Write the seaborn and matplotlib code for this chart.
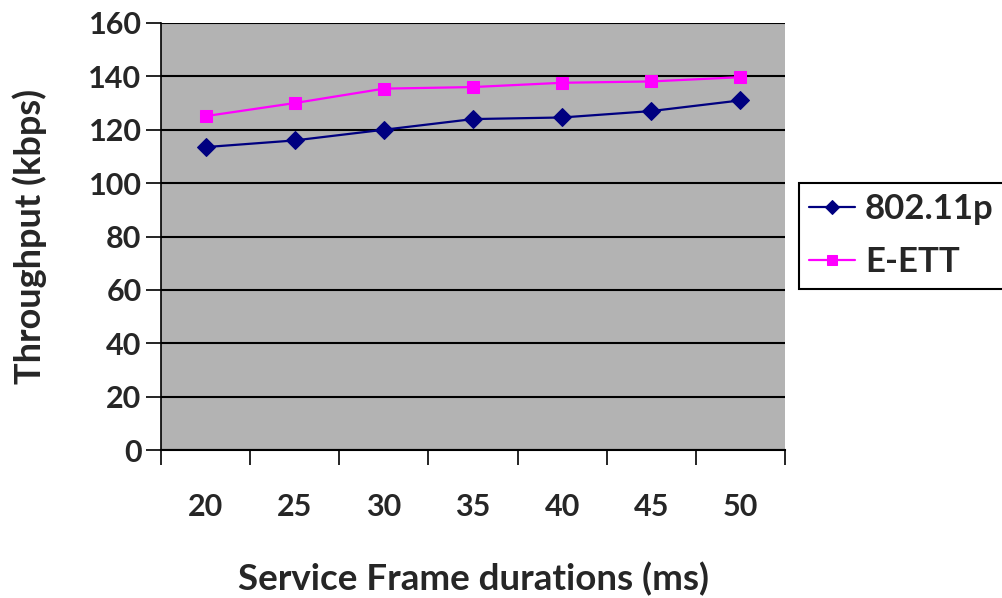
import numpy as np
import pandas as pd
import matplotlib
matplotlib.use("Agg")
import matplotlib.pyplot as plt
import seaborn as sns

durations = ["20", "25", "30", "35", "40", "45", "50"]
thr_80211p = [113.5, 116, 120, 124, 124.6, 127, 131]
thr_eett = [125.1, 130, 135.4, 136, 137.6, 138.1, 139.7]
series_names = ["802.11p", "E-ETT"]
y_ticks = [0, 20, 40, 60, 80, 100, 120, 140, 160]

df = pd.DataFrame({
    "duration": durations * 2,
    "throughput": thr_80211p + thr_eett,
    "series": [series_names[0]] * len(durations) + [series_names[1]] * len(durations),
})

sns.set_theme(style="white")
plt.rcParams["font.family"] = ["Lato", "DejaVu Sans"]
plt.rcParams["font.weight"] = "bold"

fig = plt.figure(figsize=(10.02, 5.98), dpi=100)
ax = fig.add_axes([161 / 1002, 1 - 450 / 598, (785 - 161) / 1002, (450 - 23) / 598])
ax.set_facecolor("#b3b3b3")

sns.lineplot(
    data=df, x="duration", y="throughput", hue="series", style="series",
    palette={"802.11p": "#000080", "E-ETT": "#ff00ff"},
    markers={"802.11p": "D", "E-ETT": "s"},
    dashes=False, markersize=9, linewidth=1.6, ax=ax, legend=True,
)
for line in ax.lines:
    line.set_markeredgecolor(line.get_color())

ax.set_xlim(-0.5, 6.5)
ax.set_ylim(0, 160)
ax.set_yticks(y_ticks)
ax.set_xticks(range(len(durations)))
ax.set_xticklabels(durations)
ax.set_xticks(np.arange(-0.5, 7, 1), minor=True)
ax.tick_params(axis="x", which="major", length=0, pad=31, labelsize=22)
ax.tick_params(axis="x", which="minor", length=11, width=1.2, direction="out", color="black", bottom=True)
ax.tick_params(axis="y", which="major", length=11, width=1.2, direction="out", color="black", left=True, pad=3, labelsize=22)
for lbl in ax.get_xticklabels() + ax.get_yticklabels():
    lbl.set_fontweight("bold")

ax.yaxis.grid(True, color="black", linewidth=1.5)
ax.set_axisbelow(True)
for side in ["top", "right"]:
    ax.spines[side].set_visible(False)
ax.spines["left"].set_color("black")
ax.spines["bottom"].set_color("black")
ax.spines["left"].set_linewidth(1.2)
ax.spines["bottom"].set_linewidth(1.5)

ax.set_xlabel("Service Frame durations (ms)", fontsize=26.5, fontweight="bold", labelpad=29.5)
ax.set_ylabel("Throughput (kbps)", fontsize=26, fontweight="bold", labelpad=29.5)

handles, labels = ax.get_legend_handles_labels()
ax.get_legend().remove()
leg = fig.legend(handles, labels, loc="upper left", bbox_to_anchor=(799 / 1002, 1 - 183 / 598),
                 frameon=True, fancybox=False, edgecolor="black", framealpha=1,
                 prop={"family": "Lato", "weight": "bold", "size": 25},
                 handlelength=1.3, handletextpad=0.3, borderpad=0.3, labelspacing=0.6,
                 borderaxespad=0)
leg.get_frame().set_linewidth(1.5)
for h in leg.legend_handles:
    h.set_markersize(7)

fig.savefig("out.png", dpi=100)
